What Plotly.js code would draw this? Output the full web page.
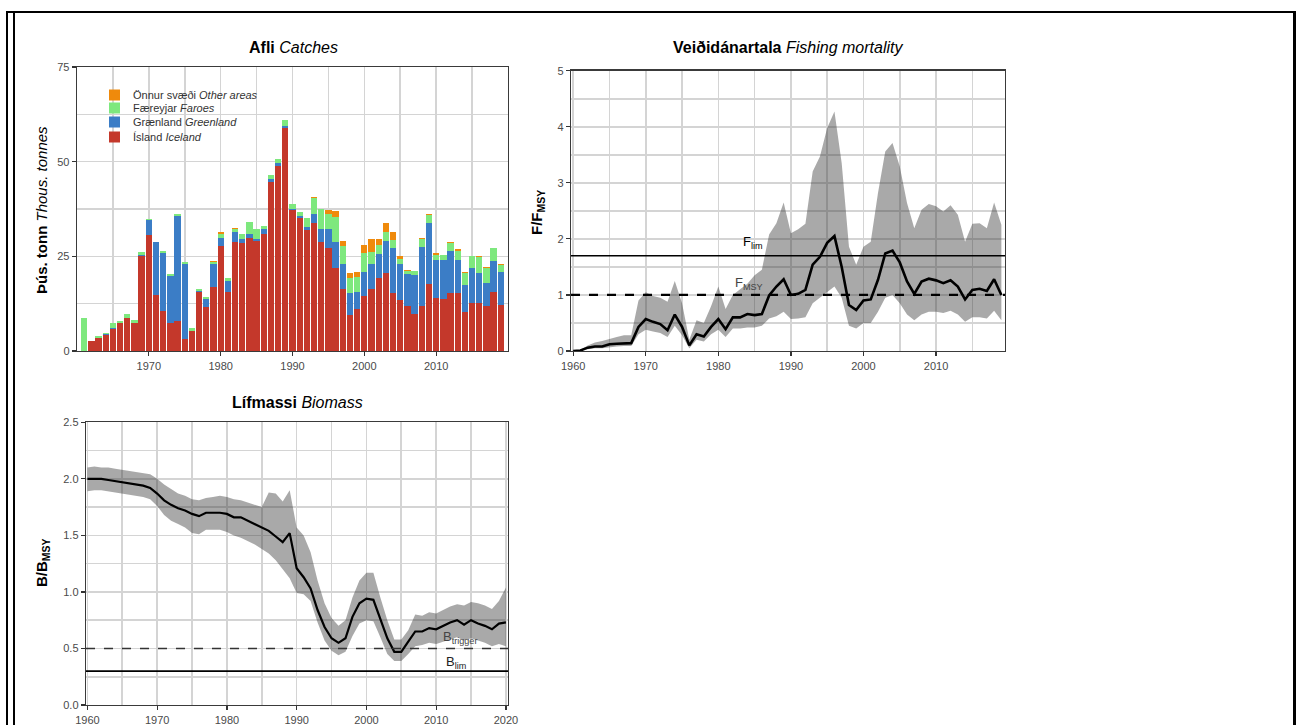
<!DOCTYPE html>
<html>
<head>
<meta charset="utf-8">
<script src="https://cdn.plot.ly/plotly-3.0.1.min.js"></script>
<style>
  html, body { margin: 0; padding: 0; background: #fff; }
  #wrap { position: relative; width: 1296px; height: 725px; overflow: hidden; }
  #chart { position: absolute; left: 0; top: 0; width: 1296px; height: 725px; }
  .fr { position: absolute; background: #000; }
</style>
</head>
<body>
<div id="wrap">
  <div id="chart"></div>
  <div class="fr" style="left:6px; top:11px; width:1290px; height:2px;"></div>
  <div class="fr" style="left:6px; top:11px; width:2px; height:714px;"></div>
  <div class="fr" style="left:13px; top:12px; width:2px; height:713px;"></div>
  <div class="fr" style="left:1293px; top:11px; width:3px; height:714px;"></div>
</div>
<script>
// ---------------- DATA ----------------
const catchYears = [1961,1962,1963,1964,1965,1966,1967,1968,1969,1970,1971,1972,1973,1974,1975,1976,1977,1978,1979,1980,1981,1982,1983,1984,1985,1986,1987,1988,1989,1990,1991,1992,1993,1994,1995,1996,1997,1998,1999,2000,2001,2002,2003,2004,2005,2006,2007,2008,2009,2010,2011,2012,2013,2014,2015,2016,2017,2018,2019];
const iceland   = [0,2.6,3.5,4.2,5.8,7.5,8.8,7.5,25.1,30.6,14.8,10.5,7.3,7.9,3.1,5.3,15.5,11.5,16.8,27.8,15.5,28.8,28.4,29.9,29.0,31.0,44.7,48.8,59.0,37.2,35.0,31.9,33.9,28.7,27.3,22.0,16.3,9.5,11.0,14.5,16.5,19.4,20.5,15.2,13.6,11.9,9.9,12.0,17.7,13.9,13.7,15.2,15.2,10.4,12.6,12.6,11.9,15.5,12.1];
const greenland = [0,0,0,0.2,0.4,0,0,0,0.2,4.0,13.9,15.5,12.6,27.8,20.0,0,0.3,2.2,6.3,2.1,3.0,2.5,1.1,0.9,0.7,1.1,0.7,0.8,0.5,0.3,0.6,0.9,2.2,3.4,4.8,6.8,6.8,5.7,4.7,6.4,6.4,6.2,8.6,12.1,9.5,8.4,10.3,15.5,16.2,10.1,10.3,11.3,8.8,7.0,9.4,7.9,6.1,8.2,8.8];
const faroes    = [8.6,0.1,0.5,0.3,1.1,0.4,0.9,0.7,0.9,0.2,0.2,0.4,0.4,0.6,0.4,0.7,0.7,0.5,0.5,1.1,0.7,0.9,1.5,3.3,2.4,1.0,1.2,1.0,1.6,1.3,1.2,2.4,4.3,5.3,4.0,6.6,4.7,4.0,3.9,4.9,3.3,2.4,2.4,2.0,1.1,0.8,0.9,2.0,2.0,1.3,1.3,2.1,2.5,3.3,3.1,4.4,3.8,3.4,1.8];
const otherAreas= [0,0,0,0,0,0,0,0,0,0,0,0.1,0,0,0,0,0,0,0.1,0.5,0,0.3,0,0,0,0,0,0.1,0,0,0,0,0.2,0,1.1,1.5,1.3,1.3,1.3,2.2,3.3,1.5,2.2,2.0,0.9,0.2,0,0.4,0.2,0.5,0,0.3,0.5,0.2,0.1,0.2,0.3,0.1,0.3];
const seriesNames = ['Ísland <i>Iceland</i>', 'Grænland <i>Greenland</i>', 'Færeyjar <i>Faroes</i>', 'Önnur svæði <i>Other areas</i>'];

const fYears = [1960,1961,1962,1963,1964,1965,1966,1967,1968,1969,1970,1971,1972,1973,1974,1975,1976,1977,1978,1979,1980,1981,1982,1983,1984,1985,1986,1987,1988,1989,1990,1991,1992,1993,1994,1995,1996,1997,1998,1999,2000,2001,2002,2003,2004,2005,2006,2007,2008,2009,2010,2011,2012,2013,2014,2015,2016,2017,2018,2019];
const fMid   = [0,0.01,0.06,0.08,0.08,0.12,0.13,0.14,0.14,0.43,0.57,0.52,0.48,0.37,0.65,0.43,0.1,0.3,0.26,0.43,0.57,0.39,0.6,0.6,0.66,0.64,0.66,0.99,1.15,1.28,1.0,1.02,1.09,1.54,1.68,1.93,2.05,1.5,0.82,0.73,0.9,0.92,1.27,1.74,1.79,1.58,1.24,1.02,1.24,1.29,1.26,1.21,1.26,1.15,0.92,1.09,1.11,1.07,1.28,1.0];
const fUpper = [0,0.02,0.1,0.15,0.18,0.22,0.25,0.28,0.28,0.9,1.05,0.98,0.95,0.88,1.25,0.85,0.2,0.55,0.5,0.8,1.15,0.75,1.0,1.1,1.2,1.35,1.45,2.08,2.28,2.65,2.1,2.17,2.27,3.2,3.47,3.98,4.27,3.35,1.86,1.54,1.86,1.95,2.82,3.56,3.71,3.29,2.64,2.19,2.52,2.62,2.58,2.49,2.6,2.43,1.95,2.27,2.28,2.19,2.65,2.25];
const fLower = [0,0,0.03,0.05,0.05,0.07,0.08,0.09,0.09,0.3,0.38,0.35,0.32,0.25,0.45,0.28,0.05,0.2,0.17,0.3,0.38,0.25,0.4,0.4,0.42,0.42,0.45,0.58,0.62,0.7,0.57,0.58,0.6,0.85,0.95,1.05,1.15,0.95,0.45,0.4,0.5,0.5,0.7,0.95,1.0,0.85,0.65,0.55,0.65,0.7,0.7,0.68,0.72,0.65,0.52,0.6,0.6,0.58,0.72,0.55];
const fLim = 1.7;
const fMsy = 1.0;

const bYears = [1960,1961,1962,1963,1964,1965,1966,1967,1968,1969,1970,1971,1972,1973,1974,1975,1976,1977,1978,1979,1980,1981,1982,1983,1984,1985,1986,1987,1988,1989,1990,1991,1992,1993,1994,1995,1996,1997,1998,1999,2000,2001,2002,2003,2004,2005,2006,2007,2008,2009,2010,2011,2012,2013,2014,2015,2016,2017,2018,2019,2020];
const bMid   = [2.0,2.0,2.0,1.99,1.98,1.97,1.96,1.95,1.94,1.92,1.87,1.81,1.77,1.74,1.72,1.69,1.67,1.7,1.7,1.7,1.69,1.66,1.66,1.63,1.6,1.57,1.54,1.49,1.44,1.52,1.21,1.13,1.03,0.84,0.69,0.59,0.55,0.59,0.78,0.9,0.94,0.93,0.75,0.59,0.47,0.47,0.56,0.65,0.65,0.68,0.67,0.7,0.73,0.75,0.71,0.75,0.72,0.7,0.67,0.72,0.73];
const bUpper = [2.1,2.11,2.1,2.1,2.09,2.08,2.07,2.06,2.05,2.04,2.0,1.95,1.91,1.87,1.85,1.82,1.81,1.83,1.84,1.85,1.84,1.82,1.81,1.79,1.77,1.75,1.88,1.87,1.8,1.9,1.57,1.5,1.35,1.1,0.9,0.77,0.7,0.75,0.95,1.1,1.17,1.17,0.95,0.75,0.58,0.58,0.66,0.8,0.79,0.82,0.81,0.84,0.87,0.89,0.88,0.91,0.9,0.88,0.85,0.92,1.04];
const bLower = [1.89,1.9,1.9,1.89,1.88,1.87,1.86,1.85,1.84,1.82,1.76,1.68,1.63,1.6,1.57,1.52,1.51,1.55,1.55,1.55,1.53,1.5,1.48,1.45,1.42,1.38,1.34,1.28,1.2,1.12,0.99,0.98,0.92,0.73,0.57,0.48,0.44,0.47,0.61,0.72,0.75,0.74,0.6,0.45,0.39,0.39,0.45,0.52,0.53,0.55,0.54,0.56,0.58,0.6,0.57,0.59,0.57,0.55,0.52,0.54,0.52];
const bTrigger = 0.5;
const bLim = 0.3;

const catchTicks = [0,25,50,75];
const decadeTicks = [1960,1970,1980,1990,2000,2010,2020];

// ---------------- STYLE ----------------
const FONT = 'Liberation Sans, Arial, Helvetica, sans-serif';
const GRID = '#d4d4d4';
const RIBBON = 'rgba(50,50,50,0.42)';
const seriesColors = ['#c4382b', '#3b7dc6', '#7ee87e', '#ef8a0c'];
const seriesValues = [iceland, greenland, faroes, otherAreas];

const traces = seriesValues.map((vals, i) => ({
  type:'bar', x: catchYears, y: vals, name: seriesNames[i],
  marker:{color: seriesColors[i], line:{width:0}},
  xaxis:'x', yaxis:'y', width:0.88, hoverinfo:'skip', showlegend:false
}));

traces.push(
  {type:'scatter', mode:'lines', x:fYears, y:fLower, line:{width:0, color:'rgba(0,0,0,0)'}, xaxis:'x2', yaxis:'y2', showlegend:false, hoverinfo:'skip'},
  {type:'scatter', mode:'lines', x:fYears, y:fUpper, fill:'tonexty', fillcolor:RIBBON, line:{width:0, color:'rgba(0,0,0,0)'}, xaxis:'x2', yaxis:'y2', showlegend:false, hoverinfo:'skip'},
  {type:'scatter', mode:'lines', x:fYears, y:fMid, line:{width:2.6, color:'#000'}, xaxis:'x2', yaxis:'y2', showlegend:false},
  {type:'scatter', mode:'lines', x:bYears, y:bLower, line:{width:0, color:'rgba(0,0,0,0)'}, xaxis:'x3', yaxis:'y3', showlegend:false, hoverinfo:'skip'},
  {type:'scatter', mode:'lines', x:bYears, y:bUpper, fill:'tonexty', fillcolor:RIBBON, line:{width:0, color:'rgba(0,0,0,0)'}, xaxis:'x3', yaxis:'y3', showlegend:false, hoverinfo:'skip'},
  {type:'scatter', mode:'lines', x:bYears, y:bMid, line:{width:2.2, color:'#000'}, xaxis:'x3', yaxis:'y3', showlegend:false}
);

const W = 1296, H = 725;
const px = v => v / W;
const py = v => 1 - v / H;

const tickFont = {family: FONT, size: 11, color: '#4a4a4a'};
function minorGrid(t0, dt) {
  return {tickmode:'linear', tick0:t0, dtick:dt, showgrid:true, gridcolor:GRID, gridwidth:1.6, ticks:''};
}
function baseAxis(extra) {
  return Object.assign({
    showline: true, mirror: true, linecolor: '#3a3a3a', linewidth: 1.3,
    showgrid: true, gridcolor: GRID, gridwidth: 1.6, zeroline: false,
    ticks: 'outside', ticklen: 4, tickwidth: 1.2, tickcolor: '#333',
    tickfont: tickFont, fixedrange: true
  }, extra);
}

// manual legend (top item = last series), compact spacing as in the reference
const legendShapes = [];
const legendAnns = [];
const LEG_X0 = 109, LEG_SIZE = 11, LEG_TEXT_X = 131;
const LEG_ROWS = [137, 122, 108, 95]; // row centres for Iceland, Greenland, Faroes, Other
seriesNames.forEach((nm, i) => {
  const cy = LEG_ROWS[i];
  legendShapes.push({type:'rect', xref:'paper', yref:'paper',
    x0:px(LEG_X0), x1:px(LEG_X0 + LEG_SIZE), y0:py(cy + LEG_SIZE/2), y1:py(cy - LEG_SIZE/2),
    fillcolor: seriesColors[i], line:{width:0}});
  legendAnns.push({xref:'paper', yref:'paper', x:px(LEG_TEXT_X), y:py(cy), text: nm, showarrow:false,
    xanchor:'left', yanchor:'middle', font:{family:FONT, size:11, color:'#333'}});
});

const layout = {
  width: W, height: H,
  margin: {l:0, r:0, t:0, b:0},
  paper_bgcolor: '#fff', plot_bgcolor: '#fff',
  font: {family: FONT, color: '#000'},
  barmode: 'stack',
  showlegend: false,
  xaxis: baseAxis({domain:[px(77), px(508)], anchor:'y', range:[1960, 2020],
           tickmode:'array', tickvals:[1970,1980,1990,2000,2010], minor: minorGrid(1965, 10)}),
  yaxis: baseAxis({domain:[py(351), py(67)], anchor:'x', range:[0, 75],
           tickmode:'array', tickvals:catchTicks, minor: minorGrid(12.5, 25)}),
  xaxis2: baseAxis({domain:[px(571), px(1005)], anchor:'y2', range:[1959.7, 2019.5],
           tickmode:'array', tickvals:decadeTicks.slice(0,6), minor: minorGrid(1965, 10)}),
  yaxis2: baseAxis({domain:[py(351), py(70.7)], anchor:'x2', range:[0, 5],
           tickmode:'linear', tick0:0, dtick:1, minor: minorGrid(0.5, 1)}),
  xaxis3: baseAxis({domain:[px(86), px(508)], anchor:'y3', range:[1959.8, 2020.3],
           tickmode:'array', tickvals:decadeTicks, minor: minorGrid(1965, 10)}),
  yaxis3: baseAxis({domain:[py(705), py(422.3)], anchor:'x3', range:[0, 2.5],
           tickmode:'linear', tick0:0, dtick:0.5, tickformat:'.1f', minor: minorGrid(0.25, 0.5)}),
  shapes: [
    {type:'line', xref:'x2 domain', yref:'y2', x0:0, x1:1, y0:fLim, y1:fLim, line:{color:'#000', width:1.6}},
    {type:'line', xref:'x2 domain', yref:'y2', x0:0, x1:1, y0:fMsy, y1:fMsy, line:{color:'#000', width:2.2, dash:'dash'}},
    {type:'line', xref:'x3 domain', yref:'y3', x0:0, x1:1, y0:bTrigger, y1:bTrigger, line:{color:'#333', width:1.4, dash:'dash'}},
    {type:'line', xref:'x3 domain', yref:'y3', x0:0, x1:1, y0:bLim, y1:bLim, line:{color:'#000', width:1.8}}
  ].concat(legendShapes),
  annotations: [
    {xref:'paper', yref:'paper', x:px(293), y:py(47), text:'<b>Afli</b> <i>Catches</i>', showarrow:false,
     font:{family:FONT, size:16, color:'#000'}, xanchor:'center', yanchor:'middle'},
    {xref:'paper', yref:'paper', x:px(788), y:py(47), text:'<b>Veiðidánartala</b> <i>Fishing mortality</i>', showarrow:false,
     font:{family:FONT, size:16, color:'#000'}, xanchor:'center', yanchor:'middle'},
    {xref:'paper', yref:'paper', x:px(297), y:py(402), text:'<b>Lífmassi</b> <i>Biomass</i>', showarrow:false,
     font:{family:FONT, size:16, color:'#000'}, xanchor:'center', yanchor:'middle'},
    {xref:'paper', yref:'paper', x:px(41), y:py(210), text:'<b>Þús. tonn</b> <i>Thous. tonnes</i>', showarrow:false, textangle:-90,
     font:{family:FONT, size:15, color:'#000'}, xanchor:'center', yanchor:'middle'},
    {xref:'paper', yref:'paper', x:px(537), y:py(213), text:'<b>F/F<sub>MSY</sub></b>', showarrow:false, textangle:-90,
     font:{family:FONT, size:15, color:'#000'}, xanchor:'center', yanchor:'middle'},
    {xref:'paper', yref:'paper', x:px(42), y:py(563), text:'<b>B/B<sub>MSY</sub></b>', showarrow:false, textangle:-90,
     font:{family:FONT, size:15, color:'#000'}, xanchor:'center', yanchor:'middle'},
    {xref:'x2', yref:'y2', x:1984.8, y:1.93, text:'F<sub>lim</sub>', showarrow:false,
     font:{family:FONT, size:13, color:'#000'}, xanchor:'center', yanchor:'middle'},
    {xref:'x2', yref:'y2', x:1984.2, y:1.2, text:'F<sub>MSY</sub>', showarrow:false,
     font:{family:FONT, size:13, color:'#444'}, xanchor:'center', yanchor:'middle'},
    {xref:'x3', yref:'y3', x:2013.4, y:0.6, text:'B<sub>trigger</sub>', showarrow:false,
     font:{family:FONT, size:13, color:'#444'}, xanchor:'center', yanchor:'middle'},
    {xref:'x3', yref:'y3', x:2012.9, y:0.38, text:'B<sub>lim</sub>', showarrow:false,
     font:{family:FONT, size:13, color:'#222'}, xanchor:'center', yanchor:'middle'}
  ].concat(legendAnns)
};

Plotly.newPlot('chart', traces, layout, {staticPlot:true, displayModeBar:false});
</script>
</body>
</html>
